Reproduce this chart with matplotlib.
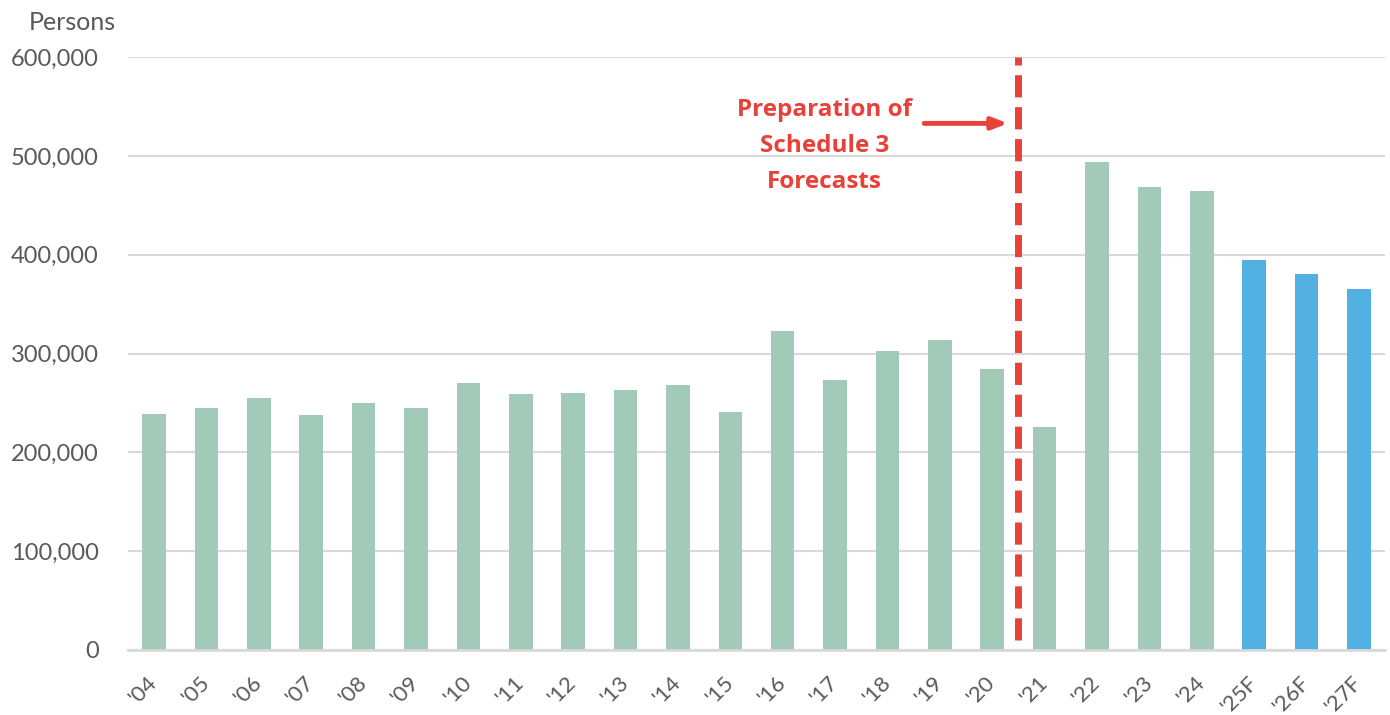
import matplotlib.pyplot as plt
from matplotlib.ticker import FuncFormatter

years = ["'04", "'05", "'06", "'07", "'08", "'09", "'10", "'11", "'12", "'13",
         "'14", "'15", "'16", "'17", "'18", "'19", "'20", "'21", "'22", "'23",
         "'24", "'25F", "'26F", "'27F"]
persons = [239000, 245000, 255000, 238000, 250000, 245000, 270000, 259000,
           260000, 263000, 268000, 241000, 323000, 273000, 303000, 314000,
           284000, 226000, 494000, 469000, 465000, 395000, 381000, 365000]
is_forecast = [y.endswith('F') for y in years]

GREEN = '#a1cbb8'
BLUE = '#52b0e3'
RED = '#e8413a'
GRAY = '#595959'
GRID = '#d9d9d9'

plt.rcParams['font.family'] = ['Lato', 'DejaVu Sans']

fig = plt.figure(figsize=(13.9, 7.15), dpi=100)
ax = fig.add_axes([0.092, 0.091, 0.9045, 0.829])

x = range(len(years))
colors = [BLUE if f else GREEN for f in is_forecast]
ax.bar(x, persons, width=0.45, color=colors, zorder=3)

ax.set_xlim(-0.5, len(years) - 0.5)
ax.set_ylim(0, 600000)
ax.set_yticks(range(0, 600001, 100000))
ax.yaxis.set_major_formatter(FuncFormatter(lambda v, p: f'{int(v):,}'))
ax.grid(axis='y', color=GRID, lw=1.5, zorder=0)
for s in ['top', 'right', 'left']:
    ax.spines[s].set_visible(False)
ax.spines['bottom'].set_color(GRID)
ax.spines['bottom'].set_linewidth(2)
ax.spines['bottom'].set_zorder(4)

ax.tick_params(axis='y', length=0, pad=21, labelsize=17, labelcolor=GRAY)
ax.tick_params(axis='x', length=0, pad=21, labelsize=16, labelcolor=GRAY)
ax.set_xticks(list(x))
ax.set_xticklabels(years, rotation=45, ha='right', va='center', rotation_mode='anchor')

# forecast preparation marker between '20 and '21
split = years.index("'21") - 0.5
ax.plot([split, split], [10000, 600000], color=RED, lw=5,
        dashes=(3.2, 1.4), zorder=5, solid_capstyle='butt', dash_capstyle='butt')
ax.annotate('', xy=(split - 0.2, 533000), xytext=(split - 1.8, 533000),
            arrowprops=dict(arrowstyle='-|>,head_length=0.9,head_width=0.35',
                            color=RED, lw=3.5, shrinkA=0, shrinkB=0))
ax.text(split - 3.7, 510000, 'Preparation of\nSchedule 3\nForecasts', color=RED,
        fontsize=17.5, fontweight='bold', ha='center', va='center', linespacing=1.68,
        family=['Open Sans', 'DejaVu Sans'])

fig.text(0.021, 0.969, 'Persons', fontsize=18, color=GRAY, va='center')

fig.savefig('out.png', dpi=100)
